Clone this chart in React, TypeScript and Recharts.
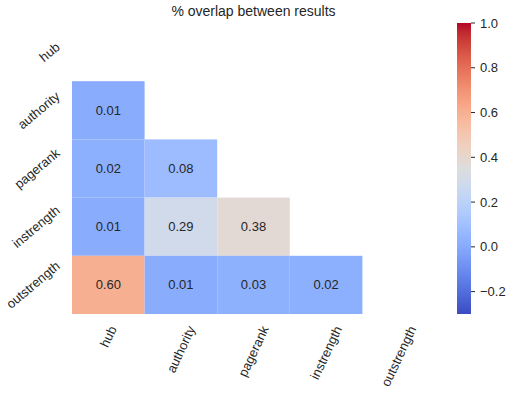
import React from 'react';
import {
  ScatterChart,
  Scatter,
  XAxis,
  YAxis,
  BarChart,
  Bar,
} from 'recharts';

// Labels for both axes (hub at top / left)
const labels = ['hub', 'authority', 'pagerank', 'instrength', 'outstrength'];

// Lower triangle values, one array per row (upper triangle + diagonal are masked)
const hubVals: number[] = [];
const authorityVals = [0.01];
const pagerankVals = [0.02, 0.08];
const instrengthVals = [0.01, 0.29, 0.38];
const outstrengthVals = [0.6, 0.01, 0.03, 0.02];
const rowValues = [hubVals, authorityVals, pagerankVals, instrengthVals, outstrengthVals];

// Colour scale range and colourbar ticks
const vmin = -0.3;
const vmax = 1.0;
const cbTicks = [-0.2, 0, 0.2, 0.4, 0.6, 0.8, 1.0];

// coolwarm colormap samples (33 stops)
const coolwarm = [
  [59, 76, 192], [68, 90, 204], [77, 104, 215], [87, 117, 225], [98, 130, 234],
  [108, 142, 241], [119, 154, 247], [130, 165, 251], [141, 176, 254], [152, 185, 255],
  [163, 194, 255], [174, 201, 253], [184, 208, 249], [194, 213, 244], [204, 217, 238],
  [213, 219, 230], [221, 221, 221], [229, 216, 209], [236, 211, 197], [241, 204, 185],
  [245, 196, 173], [247, 187, 160], [247, 177, 148], [247, 166, 135], [244, 154, 123],
  [241, 141, 111], [236, 127, 99], [229, 112, 88], [222, 96, 77], [213, 80, 66],
  [203, 62, 56], [192, 40, 47], [180, 4, 38],
];

const cmap = (t: number) => {
  const c = Math.max(0, Math.min(1, t)) * (coolwarm.length - 1);
  const i = Math.min(coolwarm.length - 2, Math.floor(c));
  const f = c - i;
  const a = coolwarm[i];
  const b = coolwarm[i + 1];
  const ch = (k: number) => Math.round(a[k] + (b[k] - a[k]) * f);
  return `rgb(${ch(0)},${ch(1)},${ch(2)})`;
};
const colorFor = (v: number) => cmap((v - vmin) / (vmax - vmin));

const cells = rowValues.flatMap((row, i) =>
  row.map((v, j) => ({ x: j + 0.5, y: i + 0.5, v }))
);
const centers = labels.map((_, i) => i + 0.5);
const cbData = [{ name: 'cb', range: [vmin, vmax] }];

// layout
const W = 512;
const H = 394;
const PLOT = { left: 72, top: 23, width: 363, height: 291 };
const cellW = PLOT.width / labels.length;
const cellH = PLOT.height / labels.length;
const FONT = '"Liberation Sans", Arial, sans-serif';
const TXT = '#262626';
const TICK_FS = 13;

let ctx: CanvasRenderingContext2D | null = null;
const measure = (t: string, size: number) => {
  if (!ctx) ctx = document.createElement('canvas').getContext('2d');
  if (!ctx) return t.length * size * 0.5;
  ctx.font = `${size}px ${FONT}`;
  return ctx.measureText(t).width;
};

const X_ROT = 65;
const Y_ROT = 40;

const XTick = (props: any) => {
  const { x, y, payload } = props;
  const text = labels[Math.floor(payload.value)];
  const th = (X_ROT * Math.PI) / 180;
  const L = measure(text, TICK_FS);
  const h = TICK_FS;
  const bh = L * Math.sin(th) + h * Math.cos(th);
  const cy = y + 10 + bh / 2;
  return (
    <text
      transform={`translate(${x},${cy}) rotate(-${X_ROT})`}
      textAnchor="middle"
      dominantBaseline="central"
      fontSize={TICK_FS}
      fontFamily={FONT}
      fill={TXT}
    >
      {text}
    </text>
  );
};

const YTick = (props: any) => {
  const { x, y, payload } = props;
  const text = labels[Math.floor(payload.value)];
  const th = (Y_ROT * Math.PI) / 180;
  const L = measure(text, TICK_FS);
  const h = TICK_FS;
  const bw = L * Math.cos(th) + h * Math.sin(th);
  const cx = x - 10 - bw / 2;
  return (
    <text
      transform={`translate(${cx},${y}) rotate(-${Y_ROT})`}
      textAnchor="middle"
      dominantBaseline="central"
      fontSize={TICK_FS}
      fontFamily={FONT}
      fill={TXT}
    >
      {text}
    </text>
  );
};

const CellShape = (props: any) => {
  const { cx, cy, payload } = props;
  return (
    <g>
      <rect
        x={cx - cellW / 2}
        y={cy - cellH / 2}
        width={cellW}
        height={cellH}
        fill={colorFor(payload.v)}
      />
      <text
        x={cx}
        y={cy}
        textAnchor="middle"
        dominantBaseline="central"
        fontSize={13}
        fontFamily={FONT}
        fill={TXT}
      >
        {payload.v.toFixed(2)}
      </text>
    </g>
  );
};

const fmtCb = (v: number) => (v < 0 ? '\u2212' + Math.abs(v).toFixed(1) : v.toFixed(1));

export default function App() {
  return (
    <div style={{ position: 'absolute', left: 0, top: 0, width: W, height: H, background: '#fff' }}>
      <div
        style={{
          position: 'absolute',
          left: PLOT.left,
          width: PLOT.width,
          top: 3,
          textAlign: 'center',
          fontFamily: FONT,
          fontSize: 14,
          lineHeight: '17px',
          color: TXT,
        }}
      >
        % overlap between results
      </div>
      <div style={{ position: 'absolute', left: 0, top: 0 }}>
        <ScatterChart
          width={W}
          height={H}
          margin={{ top: PLOT.top, left: 12, right: W - PLOT.left - PLOT.width, bottom: 10 }}
        >
          <XAxis
            type="number"
            dataKey="x"
            domain={[0, labels.length]}
            ticks={centers}
            interval={0}
            axisLine={false}
            tickLine={false}
            tickSize={0}
            tickMargin={0}
            height={H - PLOT.top - PLOT.height - 10}
            tick={<XTick />}
          />
          <YAxis
            type="number"
            dataKey="y"
            domain={[0, labels.length]}
            reversed
            ticks={centers}
            interval={0}
            axisLine={false}
            tickLine={false}
            tickSize={0}
            tickMargin={0}
            width={60}
            tick={<YTick />}
          />
          <Scatter data={cells} shape={<CellShape />} isAnimationActive={false} />
        </ScatterChart>
      </div>
      <div style={{ position: 'absolute', left: 440, top: 0 }}>
        <BarChart
          width={72}
          height={H}
          data={cbData}
          margin={{ top: PLOT.top, left: 17, right: 3, bottom: H - PLOT.top - PLOT.height }}
          barCategoryGap={0}
        >
          <defs>
            <linearGradient id="cbGrad" x1="0" y1="1" x2="0" y2="0">
              {coolwarm.map((c, i) => (
                <stop
                  key={i}
                  offset={`${(i / (coolwarm.length - 1)) * 100}%`}
                  stopColor={`rgb(${c[0]},${c[1]},${c[2]})`}
                />
              ))}
            </linearGradient>
          </defs>
          <XAxis dataKey="name" hide />
          <YAxis
            orientation="right"
            type="number"
            domain={[vmin, vmax]}
            ticks={cbTicks}
            interval={0}
            axisLine={false}
            tickSize={4}
            tickMargin={5}
            width={38}
            stroke={TXT}
            tickFormatter={fmtCb}
            tick={{ fontSize: TICK_FS, fontFamily: FONT, fill: TXT }}
          />
          <Bar dataKey="range" fill="url(#cbGrad)" isAnimationActive={false} />
        </BarChart>
      </div>
    </div>
  );
}
